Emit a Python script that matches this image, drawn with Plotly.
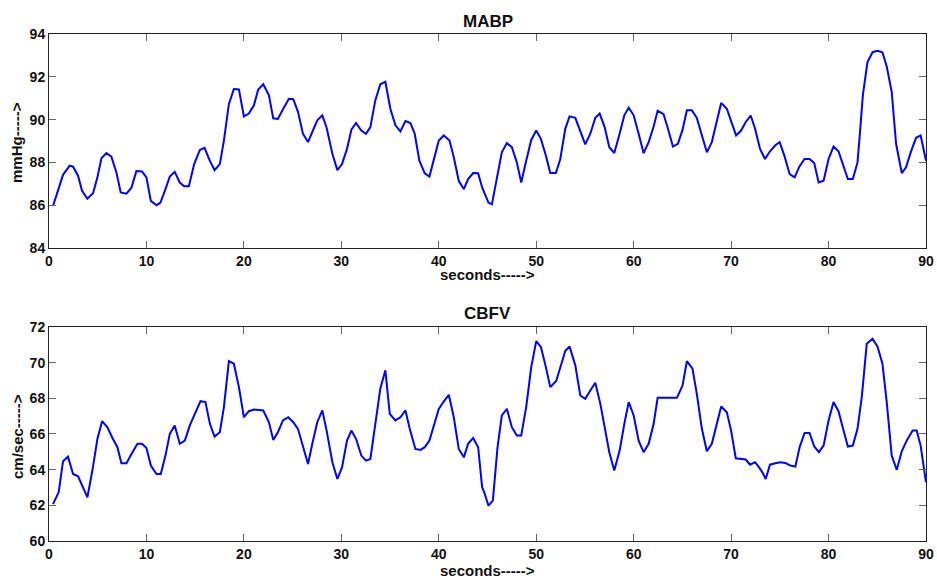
import plotly.graph_objects as go
from plotly.subplots import make_subplots

# MABP (mmHg) vs time (s)
mabp_t = [0.41,1.44,2.12,2.47,2.98,3.39,3.94,4.52,4.97,5.38,5.89,6.40,6.92,7.36,7.95,8.46,8.97,9.55,10.0,10.45,
          11.03,11.44,11.95,12.4,12.9,13.42,13.87,14.35,14.9,15.48,15.96,16.5,16.99,17.53,17.95,18.46,18.97,19.49,20.0,20.51,
          21.03,21.47,21.99,22.57,23.01,23.49,24.04,24.62,25.07,25.55,26.06,26.58,27.02,27.53,28.05,28.49,29.08,29.59,30.07,30.58,
          31.03,31.51,32.05,32.53,32.98,33.49,34.0,34.52,35.03,35.55,36.06,36.58,37.09,37.53,38.01,38.56,39.04,39.55,40.0,40.51,
          41.1,41.54,42.05,42.57,43.01,43.53,44.04,44.45,45.1,45.45,45.96,46.47,46.99,47.5,48.01,48.46,48.97,49.49,50.0,50.48,
          50.99,51.44,52.02,52.47,52.98,53.42,54.01,54.52,55.03,55.55,56.06,56.51,57.02,57.5,58.01,58.56,59.04,59.49,60.0,60.51,
          61.02,61.54,62.05,62.46,63.07,63.52,64.03,64.54,65.02,65.46,65.97,66.48,67.0,67.51,68.02,68.53,68.98,69.56,70.0,70.51,
          71.02,71.5,72.01,72.46,72.97,73.48,73.99,74.51,74.98,75.46,76.01,76.52,77.0,77.54,78.05,78.53,78.98,79.49,80.0,80.51,
          81.02,81.54,81.98,82.49,82.97,83.24,83.52,83.99,84.51,85.02,85.53,85.97,86.48,86.93,87.51,87.95,88.43,88.98,89.45,90.0]
mabp_v = [85.96,87.42,87.85,87.8,87.38,86.67,86.3,86.56,87.3,88.19,88.44,88.27,87.53,86.6,86.54,86.82,87.6,87.58,87.3,86.2,
          86.0,86.12,86.75,87.34,87.56,87.06,86.89,86.89,87.92,88.58,88.68,88.08,87.64,87.92,89.02,90.72,91.43,91.41,90.15,90.28,
          90.67,91.41,91.65,91.14,90.06,90.03,90.51,90.97,90.95,90.36,89.34,88.95,89.42,89.97,90.2,89.62,88.4,87.64,87.92,88.63,
          89.53,89.84,89.49,89.34,89.65,90.91,91.65,91.77,90.51,89.73,89.45,89.93,89.84,89.34,88.08,87.49,87.34,88.24,89.02,89.26,
          89.02,88.24,87.14,86.75,87.22,87.5,87.49,86.83,86.12,86.04,87.3,88.47,88.9,88.71,88.0,87.06,88.08,89.05,89.49,89.1,
          88.32,87.5,87.5,88.16,89.57,90.15,90.08,89.42,88.84,89.34,90.08,90.28,89.65,88.71,88.44,89.34,90.2,90.56,90.2,89.34,
          88.43,88.95,89.68,90.41,90.25,89.57,88.74,88.87,89.53,90.44,90.44,90.08,89.26,88.47,88.95,89.97,90.78,90.51,89.89,89.26,
          89.49,89.89,90.19,89.57,88.63,88.16,88.52,88.79,88.95,88.32,87.45,87.3,87.8,88.16,88.16,87.97,87.06,87.14,88.16,88.74,
          88.52,87.85,87.22,87.22,88.0,89.49,91.14,92.68,93.15,93.22,93.15,92.48,91.3,88.87,87.5,87.77,88.47,89.15,89.26,88.08]

# CBFV (cm/sec) vs time (s)
cbfv_t = [0.41,0.99,1.44,1.95,2.47,2.98,3.49,3.94,4.45,4.97,5.45,5.99,6.51,7.02,7.43,7.95,8.46,9.08,9.55,10.0,
          10.45,11.03,11.47,11.95,12.4,12.9,13.42,13.94,14.45,15.03,15.55,16.06,16.51,16.99,17.53,17.95,18.46,18.97,19.49,20.0,
          20.51,21.03,21.54,21.99,22.57,23.01,23.49,24.01,24.55,25.07,25.55,26.06,26.58,27.02,27.53,28.05,28.49,29.08,29.59,30.07,
          30.58,31.03,31.51,32.05,32.53,32.98,33.49,34.0,34.52,34.97,35.55,36.06,36.58,37.02,37.6,38.12,38.56,39.04,39.55,40.0,
          40.51,41.03,41.54,42.05,42.57,43.01,43.53,44.04,44.45,44.65,45.1,45.55,46.03,46.47,46.99,47.5,48.01,48.46,48.97,49.49,
          50.0,50.48,50.99,51.44,52.05,52.47,52.98,53.42,54.01,54.52,55.03,55.55,56.06,56.58,56.99,57.5,58.01,58.56,59.04,59.49,
          60.0,60.51,61.02,61.54,62.05,62.46,63.58,64.44,65.02,65.46,66.04,66.48,67.0,67.51,68.02,68.53,68.98,69.56,70.0,70.48,
          70.99,71.5,71.95,72.46,72.87,73.21,73.55,73.99,74.54,75.05,75.56,76.08,76.59,77.03,77.54,78.05,78.53,79.01,79.49,80.0,
          80.51,81.02,81.54,81.98,82.49,82.97,83.41,83.92,84.51,85.02,85.53,85.97,86.48,87.0,87.51,88.02,88.63,89.04,89.45,90.0]
cbfv_v = [62.07,62.73,64.47,64.73,63.76,63.63,63.01,62.45,63.95,65.73,66.72,66.38,65.78,65.26,64.36,64.36,64.88,65.45,65.45,65.22,
          64.23,63.76,63.76,64.79,66.01,66.48,65.45,65.63,66.48,67.22,67.84,67.79,66.57,65.86,66.1,67.51,70.09,69.94,68.63,66.94,
          67.28,67.37,67.36,67.32,66.66,65.67,66.1,66.76,66.94,66.66,66.29,65.26,64.32,65.45,66.66,67.32,66.19,64.42,63.48,64.13,
          65.63,66.19,65.73,64.79,64.51,64.6,66.61,68.54,69.57,67.13,66.76,66.94,67.32,66.29,65.16,65.11,65.26,65.63,66.57,67.41,
          67.82,68.2,66.94,65.16,64.69,65.45,65.78,65.26,63.01,62.75,61.98,62.26,65.26,67.04,67.41,66.38,65.91,65.91,67.51,69.75,
          71.21,70.88,69.75,68.63,68.97,69.75,70.65,70.91,69.85,68.16,67.97,68.44,68.87,67.69,66.38,64.98,63.95,65.07,66.57,67.79,
          67.04,65.63,64.98,65.45,66.57,68.03,68.03,68.03,68.72,70.09,69.66,68.25,66.29,65.03,65.45,66.57,67.54,67.22,66.19,64.64,
          64.6,64.57,64.28,64.42,64.13,63.85,63.48,64.28,64.36,64.42,64.38,64.23,64.17,65.26,66.06,66.06,65.3,64.98,65.35,66.76,
          67.79,67.28,66.19,65.3,65.35,66.29,68.07,71.06,71.34,70.91,69.94,67.79,64.79,63.99,65.03,65.63,66.19,66.19,65.35,63.29]

x_ticks = [0, 10, 20, 30, 40, 50, 60, 70, 80, 90]
mabp_ticks = [84, 86, 88, 90, 92, 94]
cbfv_ticks = [60, 62, 64, 66, 68, 70, 72]

FONT = "Liberation Sans"
fig = make_subplots(rows=2, cols=1, vertical_spacing=0.1558)
fig.add_trace(go.Scatter(x=mabp_t, y=mabp_v, mode="lines", line=dict(color="#0000ff", width=2)), row=1, col=1)
fig.add_trace(go.Scatter(x=cbfv_t, y=cbfv_v, mode="lines", line=dict(color="#0000ff", width=2)), row=2, col=1)

axis_common = dict(showline=True, mirror="ticks", linecolor="#222222", linewidth=1,
                   ticks="inside", ticklen=7, tickcolor="#666666", tickwidth=1,
                   showgrid=False, zeroline=False, automargin=False,
                   tickfont=dict(family=FONT, size=14, color="#111111", weight="bold"))
fig.update_xaxes(range=[0, 90], tickvals=x_ticks, **axis_common)
fig.update_yaxes(**axis_common)
fig.update_yaxes(range=[84, 94], tickvals=mabp_ticks, row=1, col=1)
fig.update_yaxes(range=[60, 72], tickvals=cbfv_ticks, row=2, col=1)
fig.update_layout(yaxis=dict(domain=[0.5779, 1.0]), yaxis2=dict(domain=[0.0, 0.4221]))

tf = dict(family=FONT, size=15, color="#111111", weight="bold")
ann = [
    dict(text="MABP", x=0.5, y=1.0237, font=dict(family=FONT, size=17, color="#111111", weight="bold")),
    dict(text="CBFV", x=0.5, y=0.4497, font=dict(family=FONT, size=17, color="#111111", weight="bold")),
    dict(text="seconds----->", x=0.5, y=0.5266, font=tf),
    dict(text="seconds----->", x=0.5, y=-0.0572, font=tf),
    dict(text="mmHg----->", x=-0.0365, y=0.787, textangle=-90, font=tf),
    dict(text="cm/sec----->", x=-0.0365, y=0.207, textangle=-90, font=tf),
]
for a in ann:
    fig.add_annotation(xref="paper", yref="paper", showarrow=False, xanchor="center", yanchor="middle", **a)

fig.update_layout(width=937, height=583, margin=dict(l=49, r=11, t=34, b=42, autoexpand=False),
                  paper_bgcolor="white", plot_bgcolor="white", showlegend=False)
fig.write_html("out.html")
